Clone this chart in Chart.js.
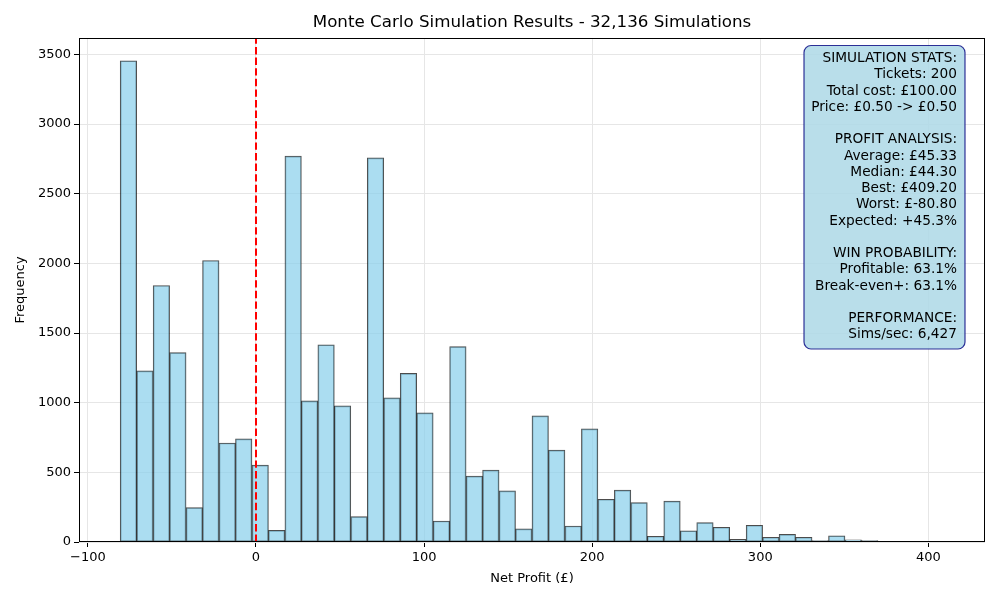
<!DOCTYPE html>
<html>
<head>
<meta charset="utf-8">
<script src="https://cdn.jsdelivr.net/npm/chart.js@4.4.1/dist/chart.umd.min.js"></script>
<style>
  html, body { margin: 0; padding: 0; background: #fff; }
  #wrap { width: 1000px; height: 600px; position: relative; }
</style>
</head>
<body>
<div id="wrap"><canvas id="mcChart" width="1000" height="600"></canvas></div>
<script>
// Histogram bins (net profit, £)
const binStart = -80.8;
const binWidth = 9.8;
const binCounts = [
  3455, 1229, 1841, 1359, 247, 2021, 711, 740, 552, 84,
  2770, 1013, 1416, 977, 182, 2758, 1035, 1210, 927, 151,
  1402, 473, 516, 367, 94, 905, 660, 115, 812, 307,
  372, 283, 41, 293, 81, 139, 106, 19, 120, 34,
  55, 34, 10, 45, 16, 10, 3, 0, 4, 2
];
const xTickValues = [-100, 0, 100, 200, 300, 400];
const yTickValues = [0, 500, 1000, 1500, 2000, 2500, 3000, 3500];
const xRange = [-105.3, 433.7];
const yMax = 3618;
const breakEven = 0;

const chartTitle = 'Monte Carlo Simulation Results - 32,136 Simulations';
const statsLines = [
  'SIMULATION STATS:',
  'Tickets: 200',
  'Total cost: £100.00',
  'Price: £0.50 -> £0.50',
  '',
  'PROFIT ANALYSIS:',
  'Average: £45.33',
  'Median: £44.30',
  'Best: £409.20',
  'Worst: £-80.80',
  'Expected: +45.3%',
  '',
  'WIN PROBABILITY:',
  'Profitable: 63.1%',
  'Break-even+: 63.1%',
  '',
  'PERFORMANCE:',
  'Sims/sec: 6,427'
];

const FONT = '"DejaVu Sans", sans-serif';

const histData = binCounts.map((c, i) => ({ x: binStart + (i + 0.5) * binWidth, y: c }));

// title over the axes, frame, break-even line and stats box
const overlayPlugin = {
  id: 'overlay',
  afterDatasetsDraw(chart) {
    const { ctx, chartArea, scales } = chart;
    ctx.save();
    // red dashed break-even line
    const x0 = scales.x.getPixelForValue(breakEven);
    ctx.strokeStyle = 'red';
    ctx.lineWidth = 2;
    ctx.setLineDash([7.4, 3.2]);
    ctx.beginPath();
    ctx.moveTo(x0, chartArea.bottom);
    ctx.lineTo(x0, chartArea.top);
    ctx.stroke();
    ctx.setLineDash([]);

    // axes frame
    ctx.strokeStyle = '#000';
    ctx.lineWidth = 1;
    ctx.strokeRect(chartArea.left + 0.5, chartArea.top + 0.5,
      chartArea.right - chartArea.left - 1, chartArea.bottom - chartArea.top - 1);

    // title centred on the plot area
    ctx.fillStyle = '#000';
    ctx.font = '16.7px ' + FONT;
    ctx.textAlign = 'center';
    ctx.textBaseline = 'middle';
    ctx.fillText(chartTitle, (chartArea.left + chartArea.right) / 2, 23);

    // stats box
    const bx = 804, by = 45.5, bw = 161, bh = 303.5, r = 7;
    ctx.beginPath();
    ctx.roundRect(bx, by, bw, bh, r);
    ctx.fillStyle = 'rgba(173,216,230,0.85)';
    ctx.fill();
    ctx.strokeStyle = 'rgba(0,0,128,0.8)';
    ctx.lineWidth = 1.2;
    ctx.stroke();

    ctx.fillStyle = '#000';
    ctx.font = '13.7px ' + FONT;
    ctx.textAlign = 'right';
    ctx.textBaseline = 'middle';
    statsLines.forEach((line, i) => {
      if (line) ctx.fillText(line, 957, 58.5 + i * 16.25);
    });
    ctx.restore();
  }
};

new Chart(document.getElementById('mcChart'), {
  type: 'bar',
  data: {
    datasets: [{
      data: histData,
      backgroundColor: 'rgba(135,206,235,0.7)',
      borderColor: 'rgba(0,0,0,0.7)',
      borderWidth: 1,
      barPercentage: 1,
      categoryPercentage: 1,
      borderSkipped: false
    }]
  },
  options: {
    responsive: false,
    animation: false,
    layout: { padding: { left: 0, right: 15, top: 38, bottom: 0 } },
    plugins: {
      legend: { display: false },
      tooltip: { enabled: false },
      title: { display: false }
    },
    scales: {
      x: {
        type: 'linear',
        min: xRange[0],
        max: xRange[1],
        offset: false,
        afterBuildTicks: (s) => { s.ticks = xTickValues.map(v => ({ value: v })); },
        afterFit: (s) => { s.height = 58; },
        grid: { color: '#e6e6e6', tickColor: '#000', tickLength: 5, offset: false },
        border: { display: false },
        ticks: {
          color: '#000',
          padding: 3,
          maxRotation: 0,
          font: { family: FONT, size: 13 },
          callback: (v) => String(v).replace('-', '\u2212')
        },
        title: {
          display: true,
          text: 'Net Profit (£)',
          color: '#000',
          font: { family: FONT, size: 13 },
          padding: { top: 0, bottom: 14 }
        }
      },
      y: {
        min: 0,
        max: yMax,
        afterBuildTicks: (s) => { s.ticks = yTickValues.map(v => ({ value: v })); },
        afterFit: (s) => { s.width = 79; },
        grid: { color: '#e6e6e6', tickColor: '#000', tickLength: 5 },
        border: { display: false },
        ticks: {
          color: '#000',
          padding: 3,
          font: { family: FONT, size: 13 },
          callback: (v) => String(v)
        },
        title: {
          display: true,
          text: 'Frequency',
          color: '#000',
          font: { family: FONT, size: 13 },
          padding: { top: 13, bottom: 0 }
        }
      }
    }
  },
  plugins: [overlayPlugin]
});
</script>
</body>
</html>
